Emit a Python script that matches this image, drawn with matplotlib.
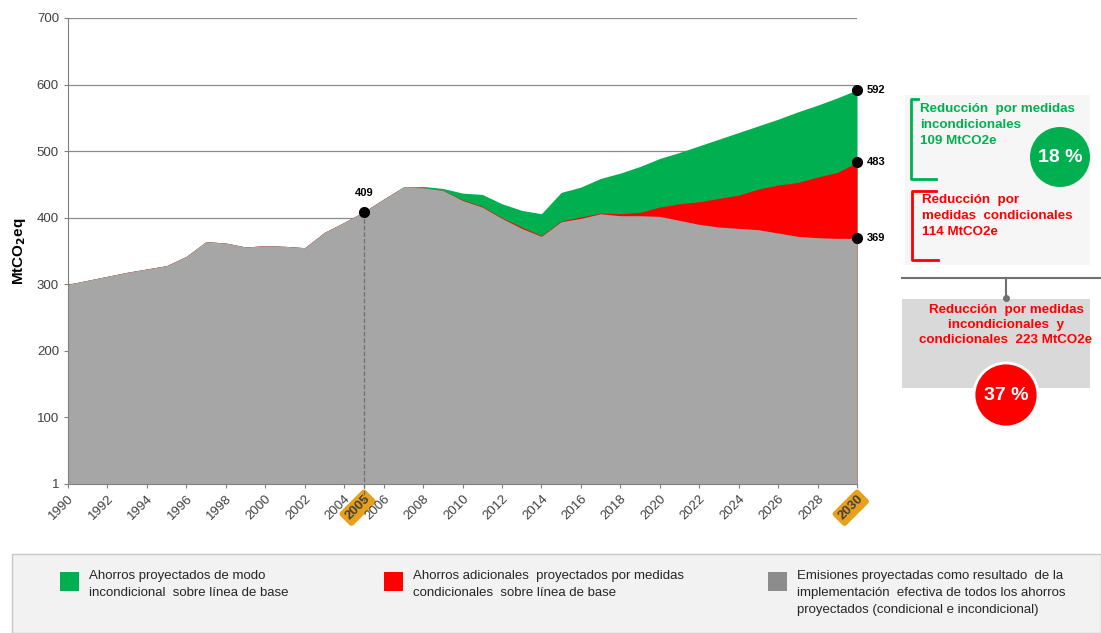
import matplotlib
matplotlib.use('Agg')
from matplotlib import pyplot as plt
from matplotlib.patches import Rectangle, Circle
import numpy as np

plt.rcParams['font.family'] = ['Liberation Sans', 'DejaVu Sans']

years = list(range(1990, 2031))
# emisiones con todas las medidas (gris)
gray = [300, 306, 312, 318, 323, 328, 342, 364, 362, 356, 358, 357, 355, 378, 393,
        409, 428, 446, 445, 441, 426, 416, 399, 384, 372, 394, 399, 406, 403, 403,
        402, 396, 390, 386, 384, 382, 377, 372, 370, 369, 369]
# tope de medidas condicionales (rojo)
red_top = [300, 306, 312, 318, 323, 328, 342, 364, 362, 356, 358, 357, 355, 378, 393,
           409, 428, 446, 445, 441, 427, 417, 400, 386, 373, 395, 401, 407, 406, 408,
           416, 421, 424, 429, 434, 443, 449, 453, 461, 468, 483]
# linea de base (verde)
green_top = [300, 306, 312, 318, 323, 328, 342, 364, 362, 356, 358, 357, 355, 378, 393,
             409, 428, 446, 447, 444, 437, 435, 421, 411, 406, 438, 446, 459, 467, 477,
             489, 498, 508, 518, 528, 538, 548, 559, 569, 580, 592]

tick_years = list(range(1990, 2005, 2)) + [2005] + list(range(2006, 2029, 2)) + [2030]
yticks = [0, 100, 200, 300, 400, 500, 600, 700]
ytick_labels = ['1', '100', '200', '300', '400', '500', '600', '700']

c_green = '#00b050'
c_red = '#ff0000'
c_gray = '#a6a6a6'
c_orange = '#e8a11c'

W, H = 1101, 633
fig = plt.figure(figsize=(W / 100, H / 100), dpi=100)

# overlay in pixel coordinates for the side notes and legend
ov = fig.add_axes([0, 0, 1, 1], zorder=-1)
ov.set_xlim(0, W)
ov.set_ylim(H, 0)
ov.axis('off')

ax = fig.add_axes([68 / W, 1 - 484 / H, 789 / W, 466 / H])
ax.fill_between(years, 0, green_top, color=c_green, lw=0)
ax.fill_between(years, 0, red_top, color=c_red, lw=0)
ax.fill_between(years, 0, gray, color=c_gray, lw=0)
ax.set_xlim(1990, 2030)
ax.set_ylim(0, 700)
ax.set_axisbelow(True)
ax.yaxis.grid(True, color='#8c8c8c', lw=0.9)
ax.set_yticks(yticks)
ax.set_yticklabels(ytick_labels)
ax.set_xticks(tick_years)
ax.set_xticklabels([str(y) for y in tick_years], rotation=45, ha='right', va='top',
                   rotation_mode='anchor')
for lab in ax.get_xticklabels():
    if lab.get_text() in ('2005', '2030'):
        lab.set_color('white')
        lab.set_fontweight('bold')
        lab.set_bbox(dict(boxstyle='round,pad=0.25', fc=c_orange, ec='none'))
ax.tick_params(axis='both', colors='#404040', labelsize=9.5, length=3, color='#808080')
for s in ['top', 'right']:
    ax.spines[s].set_visible(False)
for s in ['left', 'bottom']:
    ax.spines[s].set_color('#808080')
ax.set_ylabel(r'MtCO$_\mathbf{2}$eq', fontsize=11, fontweight='bold', labelpad=6)

# base year line and points
ax.plot([2005, 2005], [409, -25], ls='--', color='#707070', lw=0.9, clip_on=False)
pts_x = [2005, 2030, 2030, 2030]
pts_y = [409, 592, 483, 369]
ax.plot(pts_x, pts_y, 'o', color='black', ms=7, clip_on=False, zorder=5)
ax.annotate('409', (2005, 409), xytext=(0, 10), textcoords='offset points',
            ha='center', va='bottom', fontsize=8, fontweight='bold')
for v in pts_y[1:]:
    ax.annotate(str(v), (2030, v), xytext=(7, 0), textcoords='offset points',
                ha='left', va='center', fontsize=8, fontweight='bold', annotation_clip=False)

# side notes
ov.add_patch(Rectangle((905, 95), 185, 170, fc='#f6f6f6', ec='none'))
ov.plot([918, 911, 911, 936], [99, 99, 179, 179], color=c_green, lw=2)
ov.text(920, 103, 'Reducción  por medidas\nincondicionales\n109 MtCO2e', color=c_green,
        fontsize=9.6, fontweight='bold', va='top', ha='left', linespacing=1.45)
ov.add_patch(Circle((1060, 157), 30, fc=c_green, ec='none'))
ov.text(1060, 158, '18 %', color='white', fontsize=14, fontweight='bold',
        ha='center', va='center')

ov.plot([936, 912, 912, 938], [191, 191, 260, 260], color=c_red, lw=2)
ov.text(922, 194, 'Reducción  por\nmedidas  condicionales\n114 MtCO2e', color=c_red,
        fontsize=9.6, fontweight='bold', va='top', ha='left', linespacing=1.45)

ov.plot([902, 1101], [278, 278], color='#707070', lw=1.5)
ov.plot([1006, 1006], [278, 298], color='#707070', lw=1.5)
ov.plot([1006], [298], 'o', color='#707070', ms=4)
ov.add_patch(Rectangle((902, 299), 188, 89, fc='#d9d9d9', ec='none'))
ov.text(1006, 304, 'Reducción  por medidas\nincondicionales  y\ncondicionales  223 MtCO2e',
        color=c_red, fontsize=9.6, fontweight='bold', va='top', ha='center', linespacing=1.35)
ov.add_patch(Circle((1006, 395), 32, fc=c_red, ec='white', lw=2, zorder=3))
ov.text(1006, 396, '37 %', color='white', fontsize=14, fontweight='bold',
        ha='center', va='center', zorder=4)

# legend box
ov.add_patch(Rectangle((12, 554), W - 12, H - 554, fc='#f2f2f2', ec='#c8c8c8', lw=1))
leg_items = [
    (60, c_green, 'Ahorros proyectados de modo\nincondicional  sobre línea de base'),
    (384, c_red, 'Ahorros adicionales  proyectados por medidas\ncondicionales  sobre línea de base'),
    (768, '#8c8c8c', 'Emisiones proyectadas como resultado  de la\nimplementación  efectiva de todos los ahorros\nproyectados (condicional e incondicional)'),
]
for x0, col, txt in leg_items:
    ov.add_patch(Rectangle((x0, 572), 19, 19, fc=col, ec='none'))
    ov.text(x0 + 29, 570, txt, fontsize=9.5, va='top', ha='left', color='#262626',
            linespacing=1.55)

fig.savefig('out.png', dpi=100)
